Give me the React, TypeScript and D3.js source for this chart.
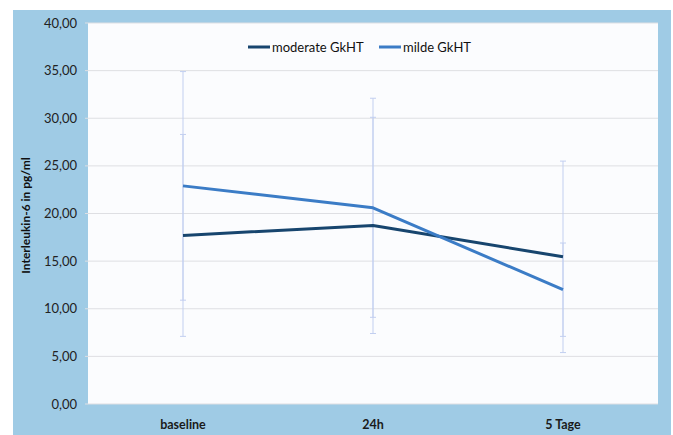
import * as d3 from 'd3';
import React from 'react';

const categories = ['baseline', '24h', '5 Tage'];
const moderate = [17.7, 18.75, 15.45];
const moderateErr = [10.6, 11.35, 10.05];
const milde = [22.9, 20.6, 12.0];
const mildeErr = [12.0, 11.5, 4.9];
const yTicks = [0, 5, 10, 15, 20, 25, 30, 35, 40];

const W = 673;
const H = 435;
const plot = { left: 88, right: 658, top: 23, bottom: 404 };
const font = 'Lato, "Open Sans", sans-serif';

const series = [
  { name: 'moderate GkHT', values: moderate, err: moderateErr, color: '#17456e' },
  { name: 'milde GkHT', values: milde, err: mildeErr, color: '#3b7cc6' },
];

const App = () => {
  const x = d3.scaleBand().domain(categories).range([plot.left, plot.right]);
  const y = d3.scaleLinear().domain([0, 40]).range([plot.bottom, plot.top]);
  const cx = (c: string) => (x(c) ?? 0) + x.bandwidth() / 2;
  const line = d3
    .line<number>()
    .x((_, i) => cx(categories[i]))
    .y(d => y(d));
  const fmt = (v: number) => v.toFixed(2).replace('.', ',');

  return (
    <svg
      width={W}
      height={H}
      style={{ position: 'absolute', left: 0, top: 0, background: '#fff' }}
    >
      {/* outer frame */}
      <rect x={13} y={10} width={658} height={H - 10} fill="#9fcbe5" />
      <rect
        x={plot.left}
        y={plot.top}
        width={plot.right - plot.left}
        height={plot.bottom - plot.top}
        fill="#fbfcfe"
      />

      {/* grid + y labels */}
      {yTicks.map(t => (
        <g key={t}>
          <line
            x1={plot.left - 3}
            x2={plot.right}
            y1={y(t)}
            y2={y(t)}
            stroke="#dedfe3"
            strokeWidth={1}
          />
          <text
            x={77}
            y={y(t)}
            dy="0.35em"
            textAnchor="end"
            fontFamily={font}
            fontSize={13}
            fill="#222"
          >
            {fmt(t)}
          </text>
        </g>
      ))}

      {/* y title */}
      <text
        transform={`translate(30,${(plot.top + plot.bottom) / 2 + 2}) rotate(-90)`}
        textAnchor="middle"
        fontFamily={font}
        fontWeight="bold"
        fontSize={12}
        fill="#111"
      >
        Interleukin-6 in pg/ml
      </text>

      {/* x labels */}
      {categories.map(c => (
        <text
          key={c}
          x={cx(c)}
          y={429}
          textAnchor="middle"
          fontFamily={font}
          fontWeight="bold"
          fontSize={12.5}
          fill="#1a1a1a"
        >
          {c}
        </text>
      ))}

      {/* error bars */}
      {series.map(s =>
        s.values.map((v, i) => {
          const xc = cx(categories[i]);
          const lo = y(v - s.err[i]);
          const hi = y(v + s.err[i]);
          return (
            <g key={s.name + i} stroke="#c2cff0" strokeWidth={1}>
              <line x1={xc} x2={xc} y1={lo} y2={hi} />
              <line x1={xc - 3} x2={xc + 3} y1={lo} y2={lo} />
              <line x1={xc - 3} x2={xc + 3} y1={hi} y2={hi} />
            </g>
          );
        })
      )}

      {/* lines */}
      {series.map(s => (
        <path
          key={s.name}
          d={line(s.values) ?? ''}
          fill="none"
          stroke={s.color}
          strokeWidth={3}
          strokeLinejoin="round"
        />
      ))}

      {/* legend */}
      {series.map((s, i) => {
        const lx = 248 + i * 131;
        return (
          <g key={s.name}>
            <line x1={lx} x2={lx + 22} y1={47} y2={47} stroke={s.color} strokeWidth={3} />
            <text
              x={lx + 24}
              y={47}
              dy="0.35em"
              fontFamily={font}
              fontSize={13}
              fill="#111"
            >
              {s.name}
            </text>
          </g>
        );
      })}
    </svg>
  );
};

export default App;
